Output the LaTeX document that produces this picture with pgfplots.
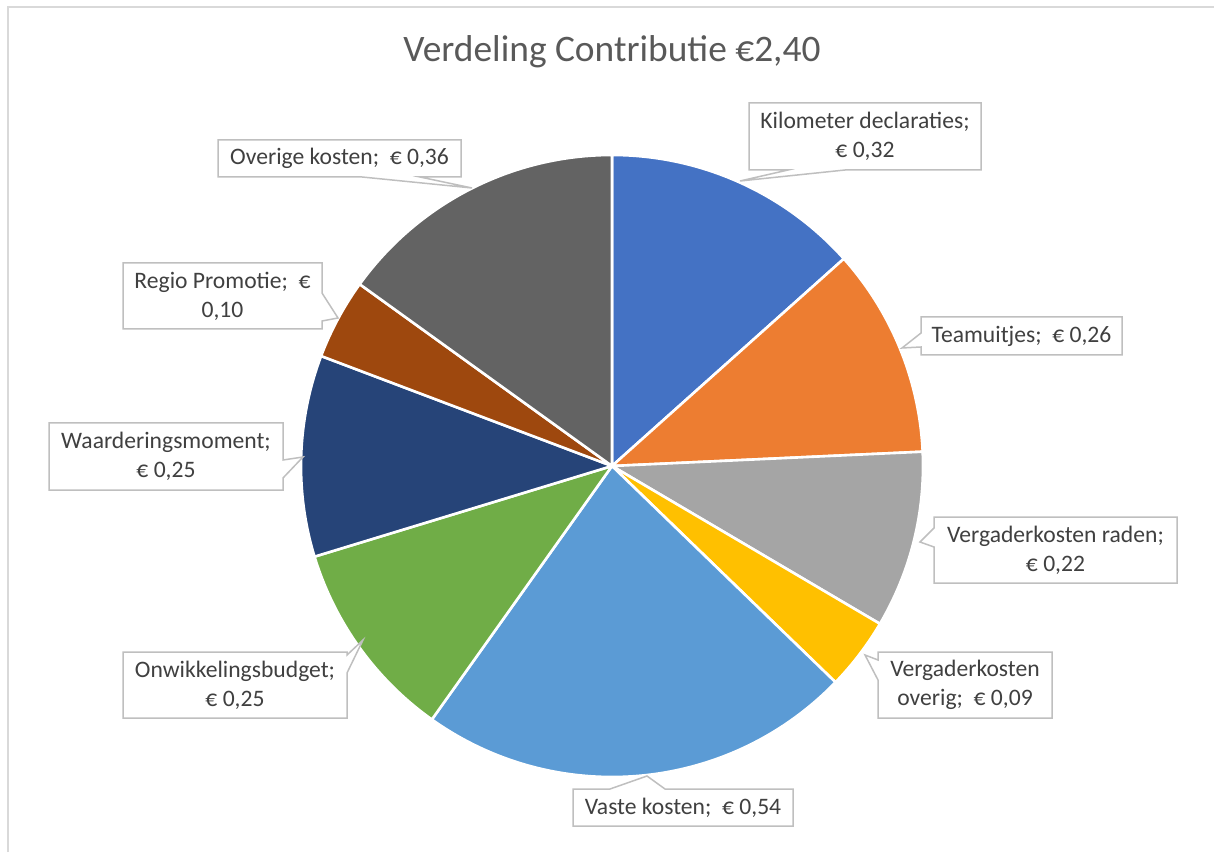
\documentclass[border=0pt]{standalone}
\usepackage{pgfplots}
\pgfplotsset{compat=1.18}
\usepackage{fontspec}
\setmainfont{Carlito}
\definecolor{c1}{HTML}{4472C4}
\definecolor{c2}{HTML}{ED7D31}
\definecolor{c3}{HTML}{A5A5A5}
\definecolor{c4}{HTML}{FFC000}
\definecolor{c5}{HTML}{5B9BD5}
\definecolor{c6}{HTML}{70AD47}
\definecolor{c7}{HTML}{264478}
\definecolor{c8}{HTML}{9E480E}
\definecolor{c9}{HTML}{636363}
\definecolor{txt}{HTML}{404040}
\definecolor{ttl}{HTML}{595959}
\definecolor{bord}{HTML}{BFBFBF}
\definecolor{frame}{HTML}{D9D9D9}
% slice values (euro)
\def\vA{0.32}\def\vB{0.26}\def\vC{0.22}\def\vD{0.09}\def\vE{0.54}
\def\vF{0.25}\def\vG{0.25}\def\vH{0.10}\def\vI{0.36}
\pgfmathsetmacro{\tot}{\vA+\vB+\vC+\vD+\vE+\vF+\vG+\vH+\vI}
\newcommand{\slice}[3]{%
  \pgfmathsetmacro\sa{90-360*(#1)/\tot}%
  \pgfmathsetmacro\ea{90-360*(#1+#2)/\tot}%
  \edef\tmp{\noexpand\fill[#3, draw=white, line width=1.3pt] (axis cs:612,386) -- ++(\sa:155.5pt) arc[start angle=\sa, end angle=\ea, radius=155.5pt] -- cycle;}\tmp}
\begin{document}
\begin{tikzpicture}
\begin{axis}[x=0.5pt, y=0.5pt, xmin=0, xmax=1214, ymin=0, ymax=852,
  hide axis, scale only axis, clip=false, anchor=south west, at={(0,0)}]
\slice{0}{\vA}{c1}
\slice{\vA}{\vB}{c2}
\slice{\vA+\vB}{\vC}{c3}
\slice{\vA+\vB+\vC}{\vD}{c4}
\slice{\vA+\vB+\vC+\vD}{\vE}{c5}
\slice{\vA+\vB+\vC+\vD+\vE}{\vF}{c6}
\slice{\vA+\vB+\vC+\vD+\vE+\vF}{\vG}{c7}
\slice{\vA+\vB+\vC+\vD+\vE+\vF+\vG}{\vH}{c8}
\slice{\vA+\vB+\vC+\vD+\vE+\vF+\vG+\vH}{\vI}{c9}
% frame
\draw[frame, line width=1pt] (8,0) -- (8,845) -- (1214,845);
% title
\node[text=ttl, font=\fontsize{18.7}{22}\selectfont] at (612,800) {Verdeling Contributie €2,40};
% callouts
\tikzset{co/.style={draw=bord, fill=white, line width=0.75pt, line join=miter},
  lt/.style={text=txt, align=center, font=\fontsize{11.8}{14.5}\selectfont}}
\draw[co] (749,749) -- (981,749) -- (981,682) -- (845,682) -- (740,671) -- (788,682) -- (749,682) -- cycle;
\node[lt] at (865,715.5) {Kilometer declaraties;\\€ 0,32};
\draw[co] (218,712) -- (461,712) -- (461,675) -- (420,675) -- (472,664) -- (362,675) -- (218,675) -- cycle;
\node[lt] at (339.5,693.5) {Overige kosten;\ \ € 0,36};
\draw[co] (123,589) -- (322,589) -- (322,559) -- (338,534) -- (322,531) -- (322,523) -- (123,523) -- cycle;
\node[lt] at (222.5,556) {Regio Promotie;\ \ €\\0,10};
\draw[co] (49,429) -- (283,429) -- (283,392) -- (303,395) -- (283,374) -- (283,362) -- (49,362) -- cycle;
\node[lt] at (166,395.5) {Waarderingsmoment;\\€ 0,25};
\draw[co] (123,200) -- (347,200) -- (347,197) -- (363,212) -- (347,179) -- (347,134) -- (123,134) -- cycle;
\node[lt] at (235,167) {Onwikkelingsbudget;\\€ 0,25};
\draw[co] (573,63) -- (610,63) -- (647,76) -- (665,63) -- (793,63) -- (793,26) -- (573,26) -- cycle;
\node[lt] at (683,44.5) {Vaste kosten;\ \ € 0,54};
\draw[co] (878,200) -- (1052,200) -- (1052,134) -- (878,134) -- (878,172) -- (865,197) -- (878,192) -- cycle;
\node[lt] at (965,167) {Vergaderkosten\\overig;\ \ € 0,09};
\draw[co] (934,335) -- (1177,335) -- (1177,269) -- (934,269) -- (934,305) -- (920,310) -- (934,324) -- cycle;
\node[lt] at (1055.5,302) {Vergaderkosten raden;\\€ 0,22};
\draw[co] (921,535) -- (1122,535) -- (1122,497) -- (921,497) -- (921,505) -- (902,504) -- (921,519) -- cycle;
\node[lt] at (1021.5,516) {Teamuitjes;\ \ € 0,26};
\end{axis}
\pgfresetboundingbox
\path[use as bounding box] (0,0) rectangle (607pt,426pt);
\end{tikzpicture}
\end{document}
